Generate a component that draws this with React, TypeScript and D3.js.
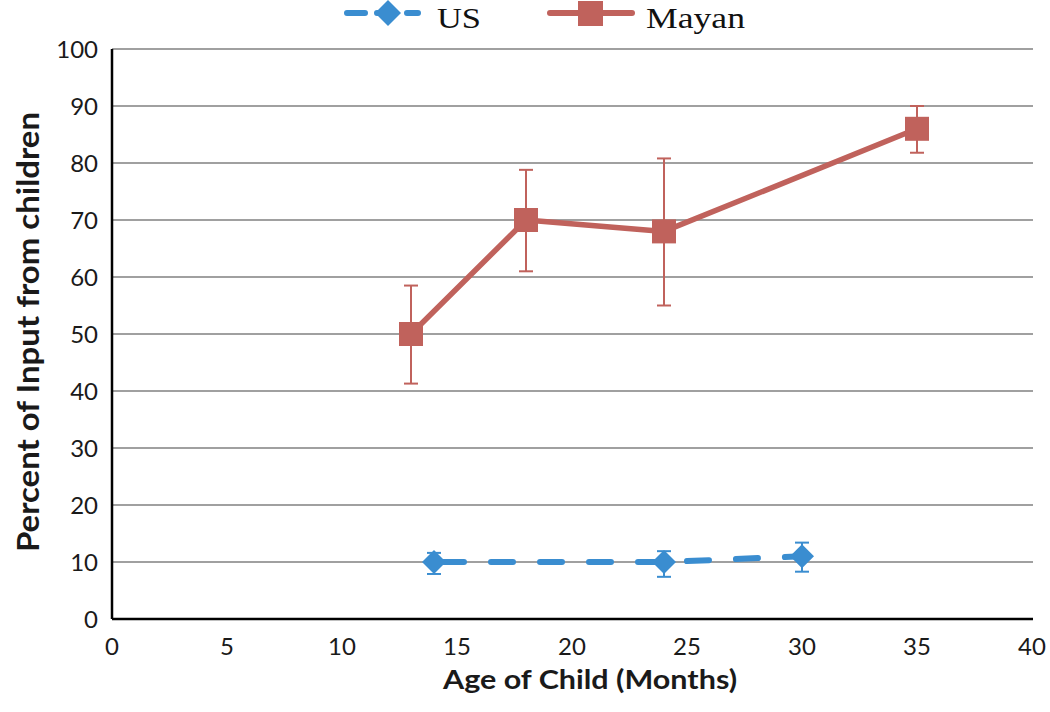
import React from "react";
import * as d3 from "d3";

const usAge = [14, 24, 30];
const usValue = [10, 10, 11];
const usLow = [7.9, 7.4, 8.3];
const usHigh = [11.6, 11.9, 13.4];

const mayanAge = [13, 18, 24, 35];
const mayanValue = [50, 70, 68, 86];
const mayanLow = [41.3, 61, 55, 81.8];
const mayanHigh = [58.5, 78.8, 80.8, 90];

const xTicks = [0, 5, 10, 15, 20, 25, 30, 35, 40];
const yTicks = [0, 10, 20, 30, 40, 50, 60, 70, 80, 90, 100];

const US_COLOR = "#3a8dd0";
const MAYAN_COLOR = "#c0625c";

export default function App() {
  const W = 1050, H = 712;
  const x = d3.scaleLinear().domain([0, 40]).range([112, 1032]);
  const y = d3.scaleLinear().domain([0, 100]).range([619, 49]);
  const line = d3.line<[number, number]>().x(d => x(d[0])).y(d => y(d[1]));
  const usPts = usAge.map((a, i) => [a, usValue[i]] as [number, number]);
  const myPts = mayanAge.map((a, i) => [a, mayanValue[i]] as [number, number]);
  const font = "Lato, 'Open Sans', sans-serif";
  const serif = "'Liberation Serif', 'Times New Roman', serif";
  const diamond = (cx: number, cy: number, r: number) =>
    `M${cx},${cy - r}L${cx + r},${cy}L${cx},${cy + r}L${cx - r},${cy}Z`;

  return (
    <svg width={W} height={H} style={{ position: "absolute", left: 0, top: 0 }}>
      <rect width={W} height={H} fill="#fff" />
      {yTicks.filter(t => t > 0).map(t => (
        <line key={t} x1={x(0)} x2={x(40) + 1} y1={y(t)} y2={y(t)} stroke="#a0a0a0" strokeWidth={2.2} />
      ))}
      <line x1={x(0)} x2={x(0)} y1={y(100)} y2={y(0)} stroke="#000" strokeWidth={2.5} />
      <line x1={x(0)} x2={x(40) + 1} y1={y(0)} y2={y(0)} stroke="#000" strokeWidth={2.5} />
      {yTicks.map(t => (
        <text key={t} x={98} y={y(t) + 9} textAnchor="end" fontFamily={font} fontSize={24} fill="#1a1a1a">{t}</text>
      ))}
      {xTicks.map(t => (
        <text key={t} x={x(t)} y={655} textAnchor="middle" fontFamily={font} fontSize={24} fill="#1a1a1a">{t}</text>
      ))}
      <text x={590} y={689} textAnchor="middle" fontFamily={font} fontWeight="bold" fontSize={26}
        textLength={294} lengthAdjust="spacingAndGlyphs" fill="#1a1a1a">Age of Child (Months)</text>
      <text transform="translate(39,332) rotate(-90)" textAnchor="middle" fontFamily={font} fontWeight="bold" fontSize={30}
        textLength={440} lengthAdjust="spacingAndGlyphs" fill="#1a1a1a">Percent of Input from children</text>

      {/* Mayan */}
      {mayanAge.map((a, i) => (
        <g key={"me" + i} stroke={MAYAN_COLOR} strokeWidth={2}>
          <line x1={x(a)} x2={x(a)} y1={y(mayanLow[i])} y2={y(mayanHigh[i])} />
          <line x1={x(a) - 7} x2={x(a) + 7} y1={y(mayanLow[i])} y2={y(mayanLow[i])} />
          <line x1={x(a) - 7} x2={x(a) + 7} y1={y(mayanHigh[i])} y2={y(mayanHigh[i])} />
        </g>
      ))}
      <path d={line(myPts) || ""} fill="none" stroke={MAYAN_COLOR} strokeWidth={5.5} strokeLinejoin="round" />
      {myPts.map((p, i) => (
        <rect key={"mm" + i} x={x(p[0]) - 12} y={y(p[1]) - 12} width={24} height={24} fill={MAYAN_COLOR} />
      ))}

      {/* US */}
      {usAge.map((a, i) => (
        <g key={"ue" + i} stroke={US_COLOR} strokeWidth={2}>
          <line x1={x(a)} x2={x(a)} y1={y(usLow[i])} y2={y(usHigh[i])} />
          <line x1={x(a) - 7} x2={x(a) + 7} y1={y(usLow[i])} y2={y(usLow[i])} />
          <line x1={x(a) - 7} x2={x(a) + 7} y1={y(usHigh[i])} y2={y(usHigh[i])} />
        </g>
      ))}
      <path d={line(usPts) || ""} fill="none" stroke={US_COLOR} strokeWidth={6} strokeDasharray="22 27" strokeDashoffset={-8} strokeLinecap="round" />
      {usPts.map((p, i) => (
        <path key={"um" + i} d={diamond(x(p[0]), y(p[1]), 12)} fill={US_COLOR} />
      ))}

      {/* Legend */}
      <line x1={347} x2={418} y1={13} y2={13} stroke={US_COLOR} strokeWidth={6} strokeDasharray="18 12" strokeLinecap="round" />
      <path d={diamond(388, 13, 13)} fill={US_COLOR} />
      <text x={437} y={27.5} fontFamily={serif} fontSize={30} textLength={44} lengthAdjust="spacingAndGlyphs" fill="#111">US</text>
      <line x1={550} x2={632} y1={13} y2={13} stroke={MAYAN_COLOR} strokeWidth={6} strokeLinecap="round" />
      <rect x={578} y={1} width={25} height={25} fill={MAYAN_COLOR} />
      <text x={646} y={27.5} fontFamily={serif} fontSize={30} textLength={99} lengthAdjust="spacingAndGlyphs" fill="#111">Mayan</text>
    </svg>
  );
}
